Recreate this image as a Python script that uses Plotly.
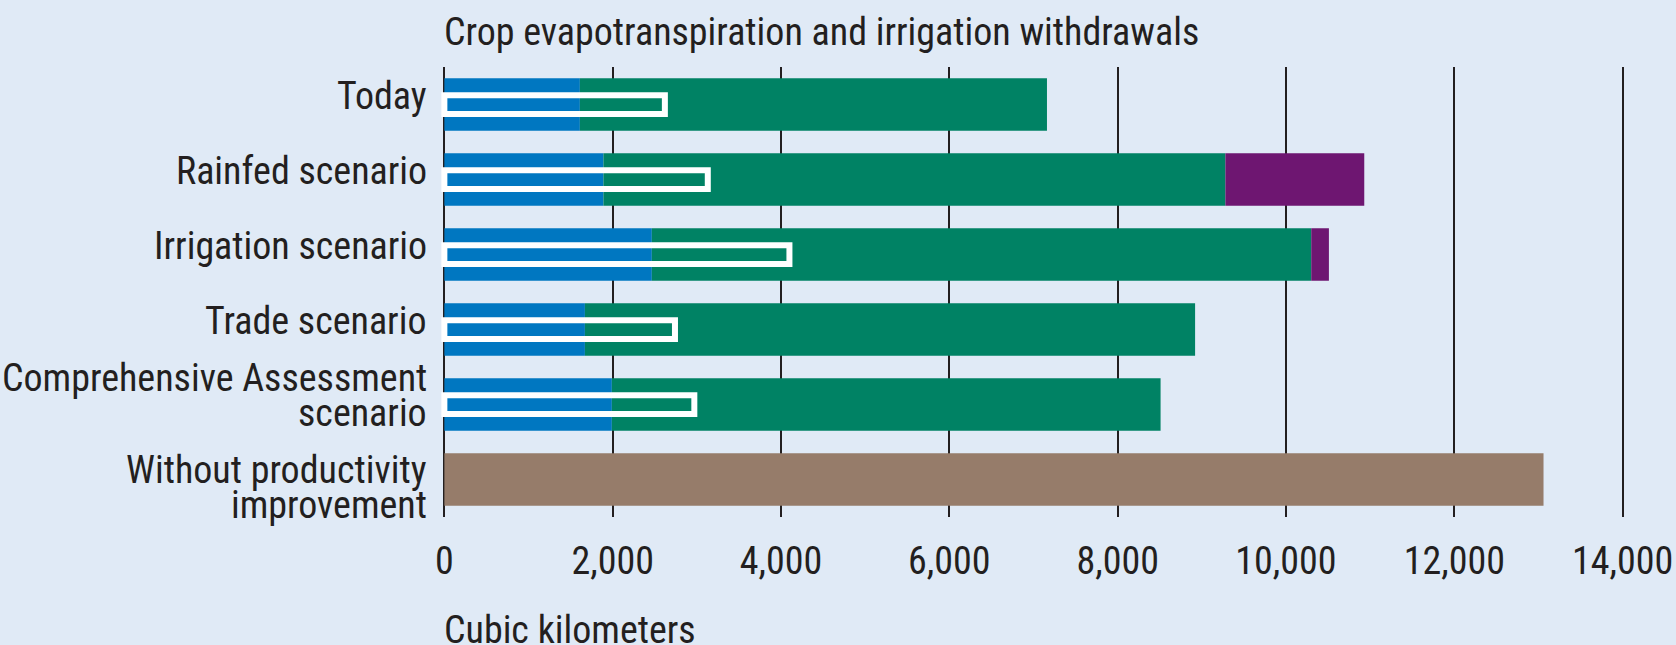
import plotly.graph_objects as go

# Scenario rows, top to bottom
categories = [
    "Today",
    "Rainfed scenario",
    "Irrigation scenario",
    "Trade scenario",
    "Comprehensive Assessment<br>scenario",
    "Without productivity<br>improvement",
]

# Crop evapotranspiration components (cubic kilometers)
irrigated_et = [1610, 1890, 2465, 1670, 1990, 0]
rainfed_et = [5550, 7390, 7835, 7250, 6520, 0]
expansion_et = [0, 1650, 210, 0, 0, 0]
no_improvement_et = [0, 0, 0, 0, 0, 13060]

# Irrigation withdrawals (cubic kilometers)
withdrawals = [2620, 3130, 4100, 2740, 2970, None]

x_ticks = [0, 2000, 4000, 6000, 8000, 10000, 12000, 14000]

FONT = "'Roboto Condensed', 'Liberation Sans Narrow', 'DejaVu Sans Condensed', sans-serif"
FONT_SIZE = 38
INK = "#231f20"
BG = "#e0eaf6"
BAR_W = 0.70

base_rainfed = irrigated_et
base_expansion = [a + b for a, b in zip(irrigated_et, rainfed_et)]

fig = go.Figure()
fig.add_trace(go.Bar(y=categories, x=irrigated_et, base=[0] * len(categories),
                     orientation="h", width=BAR_W,
                     marker=dict(color="#0077c1", line=dict(width=0))))
fig.add_trace(go.Bar(y=categories, x=rainfed_et, base=base_rainfed,
                     orientation="h", width=BAR_W,
                     marker=dict(color="#008264", line=dict(width=0))))
fig.add_trace(go.Bar(y=categories, x=expansion_et, base=base_expansion,
                     orientation="h", width=BAR_W,
                     marker=dict(color="#6e1671", line=dict(width=0))))
fig.add_trace(go.Bar(y=categories, x=no_improvement_et, base=[0] * len(categories),
                     orientation="h", width=BAR_W,
                     marker=dict(color="#967c6a", line=dict(width=0))))
# Withdrawals drawn as a hollow white frame inside each bar
fig.add_trace(go.Bar(y=categories, x=withdrawals, base=[0] * len(categories),
                     orientation="h", width=0.25,
                     marker=dict(color="rgba(0,0,0,0)",
                                 line=dict(color="white", width=6))))

# Row labels, one annotation per text line for tight line spacing
LINE_GAP = 35
annotations = []
for i, cat in enumerate(categories):
    lines = cat.split("<br>")
    n = len(lines)
    nudge = 8 if i == len(categories) - 1 else -9
    for j, line in enumerate(lines):
        offset = ((n - 1) / 2 - j) * LINE_GAP
        annotations.append(dict(
            xref="paper", x=0, yref="y", y=cat, text=line, showarrow=False,
            xanchor="right", yanchor="middle", xshift=-12,
            yshift=offset - nudge,
            font=dict(family=FONT, size=FONT_SIZE, color=INK)))

annotations.append(dict(
    xref="x", x=0, yref="paper", y=1, text="Crop evapotranspiration and irrigation withdrawals",
    showarrow=False, xanchor="left", yanchor="middle", yshift=35, xshift=-2,
    font=dict(family=FONT, size=FONT_SIZE, color=INK)))
annotations.append(dict(
    xref="x", x=0, yref="paper", y=0, text="Cubic kilometers",
    showarrow=False, xanchor="left", yanchor="middle", yshift=-113, xshift=-2,
    font=dict(family=FONT, size=FONT_SIZE, color=INK)))

fig.update_layout(
    width=1676, height=645,
    margin=dict(l=441, r=50, t=67, b=128),
    paper_bgcolor=BG, plot_bgcolor=BG,
    barmode="overlay", showlegend=False,
    annotations=annotations,
    xaxis=dict(range=[-40, 14040], tickvals=x_ticks,
               ticktext=[f"{v:,}" for v in x_ticks],
               showgrid=True, gridcolor=INK, gridwidth=2,
               zeroline=False, showline=False, ticks="",
               ticklabelstandoff=18, ticklabeloverflow="allow",
               automargin=False,
               tickfont=dict(family=FONT, size=FONT_SIZE, color=INK)),
    yaxis=dict(categoryorder="array", categoryarray=categories,
               autorange="reversed", showticklabels=False, automargin=False,
               showgrid=False, zeroline=False, showline=False, ticks=""),
)

fig.write_html("out.html")
